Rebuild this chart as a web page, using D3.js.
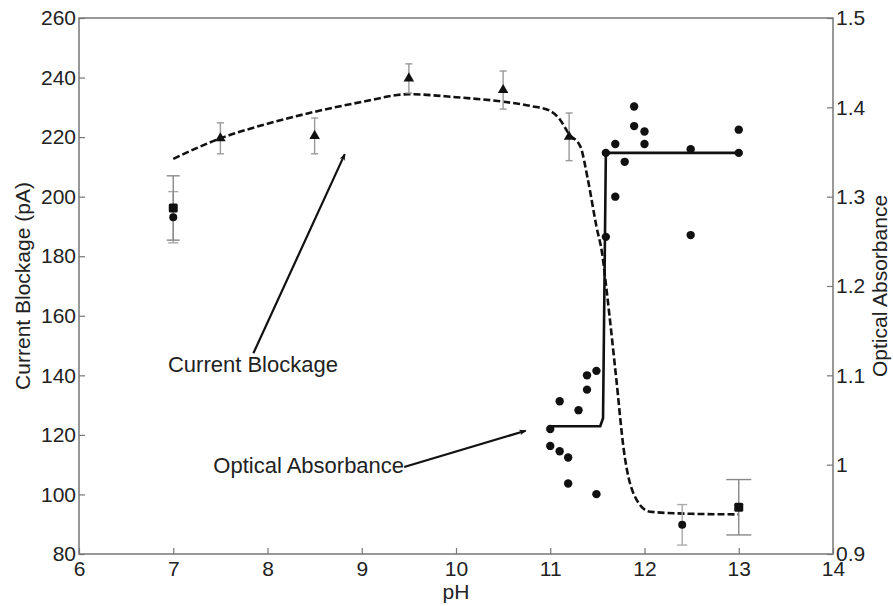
<!DOCTYPE html>
<html>
<head>
<meta charset="utf-8">
<script src="https://cdn.jsdelivr.net/npm/d3@7"></script>
<style>
    body { margin: 0; background: #fff; }
    text { font-family: "Liberation Sans", Arial, sans-serif; fill: #222; }
</style>
</head>
<body>
<div id="chart"></div>
<script>
/* Tick labels */
const phTicks = [6, 7, 8, 9, 10, 11, 12, 13, 14];
const blockTicks = [80, 100, 120, 140, 160, 180, 200, 220, 240, 260];
const absTicks = [0.9, 1, 1.1, 1.2, 1.3, 1.4, 1.5];

/* Current blockage, triangles with error bars (left axis) */
const triPH = [7.5, 8.5, 9.5, 10.5, 11.2];
const triPA = [219.6, 220.4, 239.7, 235.8, 220.1];
const triErr = [5.2, 6.0, 4.9, 6.4, 8.0];

/* Current blockage, squares */
const sqPH = [7, 13];
const sqPA = [196.2, 95.7];
const sqErr = [10.8, 9.3];

/* Current blockage, round markers */
const rdPH = [7, 12.4];
const rdPA = [193.1, 89.8];
const rdErr = [8.6, 6.8];

/* Dashed fit for current blockage */
const fitPH = [7, 7.5, 8, 8.5, 9, 9.5, 10, 10.5, 10.8, 11, 11.1, 11.2, 11.32, 11.4, 11.49, 11.55, 11.6, 11.7, 11.78, 11.92, 12.06, 12.5, 13];
const fitPA = [212.7, 219.6, 224.5, 228.5, 231.8, 234.4, 233.4, 231.9, 230.4, 228.8, 226, 221, 216.8, 205.6, 190, 181, 168, 139, 115, 98, 94.2, 93.5, 93.3];

/* Optical absorbance points (right axis) */
const absPH = [11.0, 11.0, 11.1, 11.19, 11.1, 11.3, 11.39, 11.39, 11.49, 11.19, 11.49,
               11.59, 11.59, 11.69, 11.69, 11.79, 11.89, 11.89, 12.0, 12.0, 12.49, 12.49, 13.0, 13.0];
const absVal = [1.040, 1.021, 1.015, 1.008, 1.071, 1.061, 1.084, 1.100, 1.105, 0.979, 0.967,
                1.255, 1.349, 1.300, 1.359, 1.339, 1.401, 1.379, 1.373, 1.359, 1.353, 1.257, 1.375, 1.349];

/* Step fit for optical absorbance */
const stepPH = [11.0, 11.53, 11.56, 11.59, 13.0];
const stepVal = [1.043, 1.043, 1.052, 1.349, 1.349];

/* Layout */
const W = 893, H = 606;
const margin = { left: 79, top: 18, right: 60, bottom: 52 };
const width = W - margin.left - margin.right;
const height = H - margin.top - margin.bottom;
const axisGray = "#777";

const x = d3.scaleLinear().domain([6, 14]).range([0, width]);
const yL = d3.scaleLinear().domain([80, 260]).range([height, 0]);
const yR = d3.scaleLinear().domain([0.9, 1.5]).range([height, 0]);

const svg = d3.select("#chart").append("svg")
    .attr("width", W).attr("height", H)
    .append("g")
    .attr("transform", "translate(" + margin.left + "," + margin.top + ")");

/* Axes, ticks pointing inward */
function styleAxis(g) {
    g.selectAll("path.domain").remove();
    g.selectAll(".tick line").attr("stroke", axisGray).attr("stroke-width", 1.2);
    g.selectAll(".tick text").style("font-size", "21px").attr("fill", "#222");
}

svg.append("g")
    .attr("transform", "translate(0," + height + ")")
    .call(d3.axisBottom(x).tickValues(phTicks).tickSizeInner(-6).tickSizeOuter(0).tickPadding(7))
    .call(styleAxis);

svg.append("g")
    .call(d3.axisLeft(yL).tickValues(blockTicks).tickSizeInner(-6).tickSizeOuter(0).tickPadding(3))
    .call(styleAxis);

svg.append("g")
    .attr("transform", "translate(" + width + ",0)")
    .call(d3.axisRight(yR).tickValues(absTicks).tickFormat(d3.format("~g")).tickSizeInner(-6).tickSizeOuter(0).tickPadding(3))
    .call(styleAxis);

svg.append("rect")
    .attr("width", width).attr("height", height)
    .attr("fill", "none").attr("stroke", axisGray).attr("stroke-width", 1.5);

/* Axis titles */
svg.append("text")
    .attr("transform", "translate(" + (30 - margin.left) + "," + (height / 2) + ") rotate(-90)")
    .attr("text-anchor", "middle").style("font-size", "21px")
    .text("Current Blockage (pA)");

svg.append("text")
    .attr("transform", "translate(" + (width + 54) + "," + (height / 2) + ") rotate(-90)")
    .attr("text-anchor", "middle").style("font-size", "21px")
    .text("Optical Absorbance");

svg.append("text")
    .attr("x", x(10)).attr("y", height + 45)
    .attr("text-anchor", "middle").style("font-size", "21px")
    .text("pH");

/* Fit lines */
svg.append("path")
    .datum(fitPH.map((p, i) => [p, fitPA[i]]))
    .attr("fill", "none").attr("stroke", "#111").attr("stroke-width", 2.6)
    .attr("stroke-dasharray", "7,3")
    .attr("d", d3.line().x(d => x(d[0])).y(d => yL(d[1])).curve(d3.curveMonotoneX));

svg.append("path")
    .datum(stepPH.map((p, i) => [p, stepVal[i]]))
    .attr("fill", "none").attr("stroke", "#111").attr("stroke-width", 2.6)
    .attr("stroke-linejoin", "round")
    .attr("d", d3.line().x(d => x(d[0])).y(d => yR(d[1])));

/* Error bars */
function errorBars(ph, val, err, capHalf, color) {
    const g = svg.append("g").attr("stroke", color).attr("stroke-width", 1.4);
    ph.forEach((p, i) => {
        const cx = x(p), top = yL(val[i] + err[i]), bot = yL(val[i] - err[i]);
        g.append("line").attr("x1", cx).attr("x2", cx).attr("y1", top).attr("y2", bot);
        g.append("line").attr("x1", cx - capHalf[i]).attr("x2", cx + capHalf[i]).attr("y1", top).attr("y2", top);
        g.append("line").attr("x1", cx - capHalf[i]).attr("x2", cx + capHalf[i]).attr("y1", bot).attr("y2", bot);
    });
}
errorBars(triPH, triPA, triErr, [3.5, 3.5, 3.5, 3.5, 3.5], "#999");
errorBars(rdPH, rdPA, rdErr, [5, 5], "#aaa");
errorBars(sqPH, sqPA, sqErr, [6.5, 12.5], "#888");

/* Markers */
svg.selectAll("path.tri")
    .data(triPH.map((p, i) => [p, triPA[i]]))
    .enter().append("path")
    .attr("class", "tri")
    .attr("transform", d => "translate(" + x(d[0]) + "," + yL(d[1]) + ")")
    .attr("d", d3.symbol().type(d3.symbolTriangle).size(48))
    .attr("fill", "#111");

svg.selectAll("rect.sq")
    .data(sqPH.map((p, i) => [p, sqPA[i]]))
    .enter().append("rect")
    .attr("class", "sq")
    .attr("x", d => x(d[0]) - 4.5).attr("y", d => yL(d[1]) - 4.5)
    .attr("width", 9).attr("height", 9).attr("rx", 1.5)
    .attr("fill", "#111");

svg.selectAll("circle.rd")
    .data(rdPH.map((p, i) => [p, rdPA[i]]))
    .enter().append("circle")
    .attr("class", "rd")
    .attr("cx", d => x(d[0])).attr("cy", d => yL(d[1])).attr("r", 4)
    .attr("fill", "#111");

svg.selectAll("circle.abs")
    .data(absPH.map((p, i) => [p, absVal[i]]))
    .enter().append("circle")
    .attr("class", "abs")
    .attr("cx", d => x(d[0])).attr("cy", d => yR(d[1])).attr("r", 4.2)
    .attr("fill", "#111");

/* Annotations with arrows */
svg.append("defs").append("marker")
    .attr("id", "head").attr("viewBox", "0 0 10 10")
    .attr("refX", 9).attr("refY", 5)
    .attr("markerWidth", 7).attr("markerHeight", 7)
    .attr("markerUnits", "userSpaceOnUse")
    .attr("orient", "auto")
    .append("path").attr("d", "M0,1 L10,5 L0,9 L3,5 Z").attr("fill", "#111");

function annotate(label, tx, ty, from, to) {
    svg.append("text")
        .attr("x", x(tx)).attr("y", yL(ty))
        .style("font-size", "22px")
        .text(label);
    svg.append("line")
        .attr("x1", x(from[0])).attr("y1", yL(from[1]))
        .attr("x2", x(to[0])).attr("y2", yL(to[1]))
        .attr("stroke", "#111").attr("stroke-width", 2.2)
        .attr("marker-end", "url(#head)");
}
annotate("Current Blockage", 6.944, 141.1, [7.85, 147.4], [8.82, 214.3]);
annotate("Optical Absorbance", 7.425, 107.1, [9.45, 109.2], [10.74, 121.4]);
</script>
</body>
</html>
